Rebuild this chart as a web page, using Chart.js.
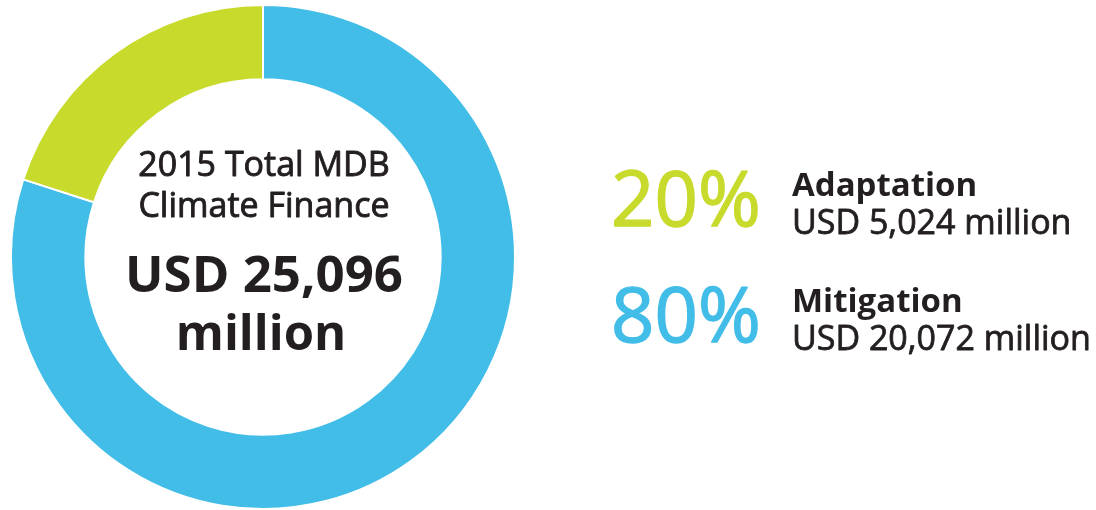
<!DOCTYPE html>
<html>
<head>
<meta charset="utf-8">
<script src="https://cdn.jsdelivr.net/npm/chart.js@4"></script>
<style>
  html, body { margin: 0; padding: 0; background: #ffffff; }
  #wrap { width: 1096px; height: 510px; position: relative; }
</style>
</head>
<body>
<div id="wrap"><canvas id="c" width="1096" height="510"></canvas></div>
<script>
// ---- data ----
const categories = ['Mitigation', 'Adaptation'];
const values = [20072, 5024];           // USD million
const sliceColors = ['#41BDE8', '#C8DA2C'];
const centerTitle = ['2015 Total MDB', 'Climate Finance'];
const centerValue = ['USD 25,096', 'million'];
const legendOrder = ['Adaptation', 'Mitigation'];
const legendPercent = ['20%', '80%'];
const legendAmount = ['USD 5,024 million', 'USD 20,072 million'];
const legendColors = ['#C8DA2C', '#41BDE8'];

const TEXT = '#231F20';
const FONT = '"Open Sans", "Noto Sans", sans-serif';

function heavyText(ctx, s, x, y, w) {
  ctx.fillText(s, x, y);
  ctx.lineWidth = w;
  ctx.strokeStyle = ctx.fillStyle;
  ctx.lineJoin = 'round';
  ctx.strokeText(s, x, y);
}

const textPlugin = {
  id: 'texts',
  afterDraw(chart) {
    const ctx = chart.ctx;
    const arc = chart.getDatasetMeta(0).data[0];
    const cx = arc.x, cy = arc.y;
    ctx.save();
    ctx.fillStyle = TEXT;
    ctx.textAlign = 'center';
    ctx.textBaseline = 'alphabetic';
    ctx.font = '400 34px ' + FONT;
    heavyText(ctx, centerTitle[0], cx + 1, cy - 81, 0.9);
    heavyText(ctx, centerTitle[1], cx + 1, cy - 40, 0.9);
    ctx.font = '700 51px ' + FONT;
    ctx.fillText(centerValue[0], cx + 1, cy + 35);
    ctx.font = '700 49px ' + FONT;
    ctx.fillText(centerValue[1], cx - 2, cy + 93);

    // right legend
    const rowBase = [226, 342];
    for (let i = 0; i < legendOrder.length; i++) {
      const b = rowBase[i];
      ctx.textAlign = 'left';
      ctx.fillStyle = legendColors[i];
      ctx.font = '400 76px ' + FONT;
      heavyText(ctx, legendPercent[i], 611, b, 1.4);
      ctx.fillStyle = TEXT;
      ctx.font = '700 33px ' + FONT;
      ctx.fillText(legendOrder[i], 792, b - 30);
      ctx.font = '400 34px ' + FONT;
      heavyText(ctx, legendAmount[i], 792, b + 8, 0.8);
    }
    ctx.restore();
  }
};

function build() {
  new Chart(document.getElementById('c'), {
    type: 'doughnut',
    data: {
      labels: categories,
      datasets: [{
        data: values,
        backgroundColor: sliceColors,
        borderColor: '#ffffff',
        borderWidth: 2,
        hoverOffset: 0
      }]
    },
    options: {
      responsive: false,
      animation: false,
      devicePixelRatio: 1,
      cutout: '70.5%',
      rotation: 0,
      layout: { padding: { left: 9, top: 4, right: 579, bottom: 0 } },
      plugins: {
        legend: { display: false },
        tooltip: { enabled: false }
      }
    },
    plugins: [textPlugin]
  });
}
if (document.fonts && document.fonts.load) {
  Promise.all([
    document.fonts.load('400 34px "Open Sans"'),
    document.fonts.load('700 33px "Open Sans"'),
    document.fonts.load('700 51px "Open Sans"')
  ]).then(build, build);
} else { build(); }
</script>
</body>
</html>
